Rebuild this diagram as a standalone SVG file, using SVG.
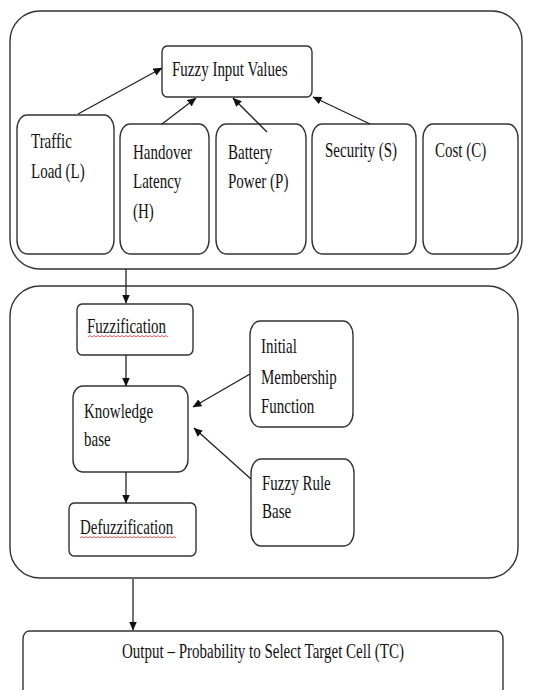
<svg xmlns="http://www.w3.org/2000/svg" width="533" height="690" viewBox="0 0 533 690">
<defs>
<marker id="ah" markerWidth="9" markerHeight="8" refX="8.5" refY="4" orient="auto" markerUnits="userSpaceOnUse">
<path d="M0,0 L9,4 L0,8 z" fill="#111"/>
</marker>
</defs>
<style>
.box{fill:#fff;stroke:#333;stroke-width:1.4}
.cont{fill:#fff;stroke:#333;stroke-width:1.4}
.t{font-family:"Liberation Serif","Times New Roman",serif;font-size:15px;fill:#111}
.c{text-anchor:middle}
.ln{stroke:#222;stroke-width:1.3;fill:none;marker-end:url(#ah)}
.sq{stroke:#e03030;stroke-width:0.8;fill:none}
</style>
<rect width="533" height="690" fill="#fff"/>

<g id="inputs-container"><rect class="cont" x="10" y="11" width="512" height="258" rx="30" ry="30"/></g>
<g id="fis-container"><rect class="cont" x="10" y="286" width="508" height="292" rx="30" ry="30"/></g>

<g id="fuzzy-input-values"><rect class="box" x="162" y="46" width="150" height="51" rx="5" ry="6"/>
<text class="t" transform="matrix(1 0 0 1.45 172 76)">Fuzzy Input Values</text></g>

<g id="traffic-load"><rect class="box" x="17" y="115" width="97" height="139" rx="10" ry="14"/>
<text class="t" transform="matrix(1 0 0 1.45 31 148)">Traffic</text>
<text class="t" transform="matrix(1 0 0 1.45 31 178)">Load (L)</text></g>

<g id="handover-latency"><rect class="box" x="120" y="124" width="89" height="130" rx="10" ry="14"/>
<text class="t" transform="matrix(1 0 0 1.45 133 159)">Handover</text>
<text class="t" transform="matrix(1 0 0 1.45 133 188)">Latency</text>
<text class="t" transform="matrix(1 0 0 1.45 133 218)">(H)</text></g>

<g id="battery-power"><rect class="box" x="216" y="124" width="90" height="130" rx="10" ry="14"/>
<text class="t" transform="matrix(1 0 0 1.45 228 159)">Battery</text>
<text class="t" transform="matrix(1 0 0 1.45 228 188)">Power (P)</text></g>

<g id="security"><rect class="box" x="312" y="124" width="104" height="130" rx="10" ry="14"/>
<text class="t" transform="matrix(1 0 0 1.45 325 157)">Security (S)</text></g>

<g id="cost"><rect class="box" x="423" y="124" width="95" height="130" rx="10" ry="14"/>
<text class="t" transform="matrix(1 0 0 1.45 435 157)">Cost (C)</text></g>

<g id="fuzzification"><rect class="box" x="77" y="304" width="116" height="51" rx="5" ry="6"/>
<text class="t" transform="matrix(1 0 0 1.45 87 333)">Fuzzification</text>
<path class="sq" d="M88,337 l2,-1.5 l2,1.5 l2,-1.5 l2,1.5 l2,-1.5 l2,1.5 l2,-1.5 l2,1.5 l2,-1.5 l2,1.5 l2,-1.5 l2,1.5 l2,-1.5 l2,1.5 l2,-1.5 l2,1.5 l2,-1.5 l2,1.5 l2,-1.5 l2,1.5 l2,-1.5 l2,1.5 l2,-1.5 l2,1.5 l2,-1.5 l2,1.5 l2,-1.5 l2,1.5 l2,-1.5 l2,1.5 l2,-1.5 l2,1.5 l2,-1.5 l2,1.5 l2,-1.5 l2,1.5 l2,-1.5 l2,1.5 l2,-1.5 l2,1.5"/></g>

<g id="knowledge-base"><rect class="box" x="73" y="386" width="115" height="86" rx="10" ry="12"/>
<text class="t" transform="matrix(1 0 0 1.45 84 418)">Knowledge</text>
<text class="t" transform="matrix(1 0 0 1.45 84 446)">base</text></g>

<g id="defuzzification"><rect class="box" x="69" y="503" width="127" height="53" rx="5" ry="6"/>
<text class="t" transform="matrix(1 0 0 1.45 80 534)">Defuzzification</text>
<path class="sq" d="M80,538 l2,-1.5 l2,1.5 l2,-1.5 l2,1.5 l2,-1.5 l2,1.5 l2,-1.5 l2,1.5 l2,-1.5 l2,1.5 l2,-1.5 l2,1.5 l2,-1.5 l2,1.5 l2,-1.5 l2,1.5 l2,-1.5 l2,1.5 l2,-1.5 l2,1.5 l2,-1.5 l2,1.5 l2,-1.5 l2,1.5 l2,-1.5 l2,1.5 l2,-1.5 l2,1.5 l2,-1.5 l2,1.5 l2,-1.5 l2,1.5 l2,-1.5 l2,1.5 l2,-1.5 l2,1.5 l2,-1.5 l2,1.5 l2,-1.5 l2,1.5 l2,-1.5 l2,1.5 l2,-1.5 l2,1.5 l2,-1.5 l2,1.5 l2,-1.5 l2,1.5"/></g>

<g id="initial-membership-function"><rect class="box" x="250" y="321" width="103" height="106" rx="10" ry="14"/>
<text class="t" transform="matrix(1 0 0 1.45 261 353)">Initial</text>
<text class="t" transform="matrix(1 0 0 1.45 261 384)">Membership</text>
<text class="t" transform="matrix(1 0 0 1.45 261 413)">Function</text></g>

<g id="fuzzy-rule-base"><rect class="box" x="251" y="459" width="103" height="87" rx="10" ry="14"/>
<text class="t" transform="matrix(1 0 0 1.45 262 490)">Fuzzy Rule</text>
<text class="t" transform="matrix(1 0 0 1.45 262 518)">Base</text></g>

<g id="output"><rect class="box" x="23" y="631" width="480" height="75" rx="6" ry="8"/>
<text class="t c" transform="matrix(1 0 0 1.45 263 658)">Output – Probability to Select Target Cell (TC)</text></g>

<g id="connectors">
<line class="ln" x1="78" y1="114" x2="162" y2="68"/>
<line class="ln" x1="162" y1="124" x2="196" y2="98"/>
<line class="ln" x1="267" y1="132" x2="233" y2="98"/>
<line class="ln" x1="370" y1="124" x2="313" y2="97"/>
<line class="ln" x1="126" y1="269" x2="126" y2="303"/>
<line class="ln" x1="126" y1="355" x2="126" y2="386"/>
<line class="ln" x1="126" y1="472" x2="126" y2="503"/>
<line class="ln" x1="250" y1="374" x2="193" y2="407"/>
<line class="ln" x1="251" y1="479" x2="194" y2="428"/>
<line class="ln" x1="133" y1="579" x2="133" y2="630"/>
</g>
</svg>
